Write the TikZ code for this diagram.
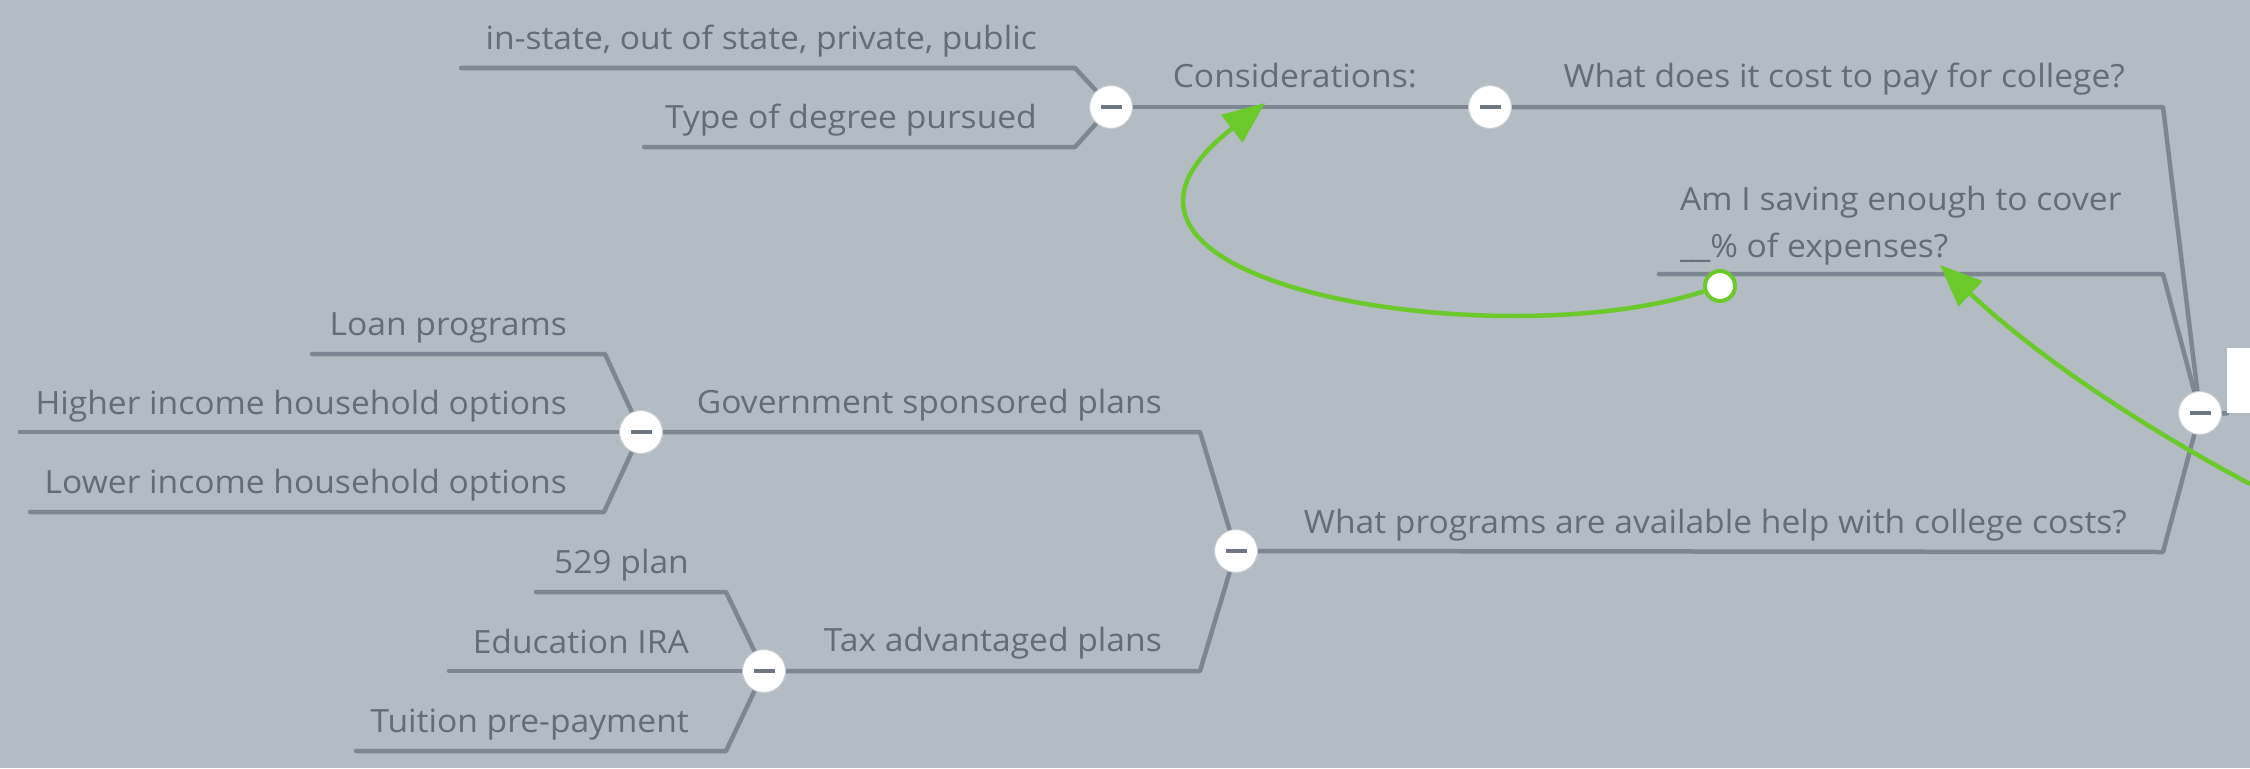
\documentclass[tikz,border=0pt]{standalone}
\usepackage{fontspec}
\setmainfont{Open Sans}[FakeStretch=1.05]
\usetikzlibrary{arrows.meta}
\pgfdeclarelayer{back}
\pgfdeclarelayer{lines}
\pgfsetlayers{back,lines,main}
\definecolor{bg}{HTML}{B3BBC3}
\definecolor{ln}{HTML}{7D8792}
\definecolor{tx}{HTML}{646C75}
\definecolor{gr}{HTML}{6CC92B}
\definecolor{cb}{HTML}{C8CDD2}
\definecolor{mn}{HTML}{6E7781}
\newcommand{\minusbar}{\textcolor{mn}{\rule{21pt}{4.5pt}}}
\begin{document}
\begin{tikzpicture}[x=1pt,y=-1pt,
  branch/.style={draw=ln, line width=4.5pt, line join=round, line cap=round},
  lbl/.style={anchor=base east, inner sep=0pt, text=tx, font=\fontsize{32}{47}\selectfont},
  toggle/.style={circle, fill=white, draw=cb, line width=1pt, minimum size=43pt, inner sep=0pt},
  linkdot/.style={circle, fill=white, draw=gr, line width=4pt, minimum size=30pt, inner sep=0pt},
  link/.style={draw=gr, line width=4.5pt, -{Triangle[length=42pt,width=34pt]}},
]
\begin{pgfonlayer}{back}
\fill[bg] (0,0) rectangle (2250,768);
\end{pgfonlayer}
\useasboundingbox (0,0) rectangle (2250,768);

% toggles
\node[toggle] (R)  at (2200,413) {\minusbar};
\node[toggle] (C1) at (1490,107) {\minusbar};
\node[toggle] (C0) at (1111,107) {\minusbar};
\node[toggle] (C3) at (1236,551) {\minusbar};
\node[toggle] (G)  at (641,432) {\minusbar};
\node[toggle] (T)  at (764,671) {\minusbar};
\node[fill=white, inner sep=0pt, minimum width=23pt, minimum height=65pt, anchor=north west] (root) at (2227,348) {};

% corner and end coordinates
\coordinate (c1) at (2163,107);
\coordinate (c2) at (2163,274);
\coordinate (e3) at (1659,274);
\coordinate (c3) at (2163,552);
\coordinate (k1) at (1075,68);
\coordinate (e1) at (461,68);
\coordinate (k2) at (1075,147);
\coordinate (e2) at (644,147);
\coordinate (k3) at (1200,432);
\coordinate (k4) at (1200,671);
\coordinate (k5) at (605,354);
\coordinate (e5) at (312,354);
\coordinate (e6) at (20,432);
\coordinate (k7) at (604,512);
\coordinate (e7) at (30,512);
\coordinate (k8) at (726,592);
\coordinate (e8) at (536,592);
\coordinate (e9) at (449,671);
\coordinate (k10) at (726,751);
\coordinate (e10) at (356,751);

\begin{pgfonlayer}{lines}
\draw[branch] (R.center) -- (root.south west);
\draw[branch] (R.center) -- (c1) -- (C1.center);
\draw[branch] (R.center) -- (c2) -- (e3);
\draw[branch] (R.center) -- (c3) -- (C3.center);
\draw[branch] (C1.center) -- (C0.center);
\draw[branch] (C0.center) -- (k1) -- (e1);
\draw[branch] (C0.center) -- (k2) -- (e2);
\draw[branch] (C3.center) -- (k3) -- (G.center);
\draw[branch] (C3.center) -- (k4) -- (T.center);
\draw[branch] (G.center) -- (k5) -- (e5);
\draw[branch] (G.center) -- (e6);
\draw[branch] (G.center) -- (k7) -- (e7);
\draw[branch] (T.center) -- (k8) -- (e8);
\draw[branch] (T.center) -- (e9);
\draw[branch] (T.center) -- (k10) -- (e10);
\end{pgfonlayer}

% labels
\node[lbl] (in) at (1037,49) {in-state, out of state, private, public};
\node[lbl] (deg) at (1037,128) {Type of degree pursued};
\node[lbl] (cons) at (1417,88) {Considerations:};
\node[lbl] (cost) at (2125,88) {What does it cost to pay for college?};
\node[lbl, anchor=base west, align=left] (save) at (1680,257) {Am I saving enough to cover\\\_\_\% of expenses?};
\node[lbl] (prog) at (2127,533) {What programs are available help with college costs?};
\node[lbl] (gov) at (1162,413) {Government sponsored plans};
\node[lbl] (tax) at (1162,651) {Tax advantaged plans};
\node[lbl] (loan) at (567,335) {Loan programs};
\node[lbl] (hi) at (567,414) {Higher income household options};
\node[lbl] (lo) at (567,493) {Lower income household options};
\node[lbl] (p529) at (689,573) {529 plan};
\node[lbl] (ira) at (689,653) {Education IRA};
\node[lbl] (tui) at (689,732) {Tuition pre-payment};

% links
\coordinate (tipA) at (1265,103);
\coordinate (inB) at (2250,484);
\coordinate (tipB) at (1940,265);
\node[linkdot] (L) at (1720,286) {};
\begin{pgfonlayer}{lines}
\draw[link] (L) .. controls (1500,358) and (1030,285) .. (tipA);
\draw[link] (inB) .. controls (2130,420) and (2030,350) .. (tipB);
\end{pgfonlayer}
\end{tikzpicture}
\end{document}
